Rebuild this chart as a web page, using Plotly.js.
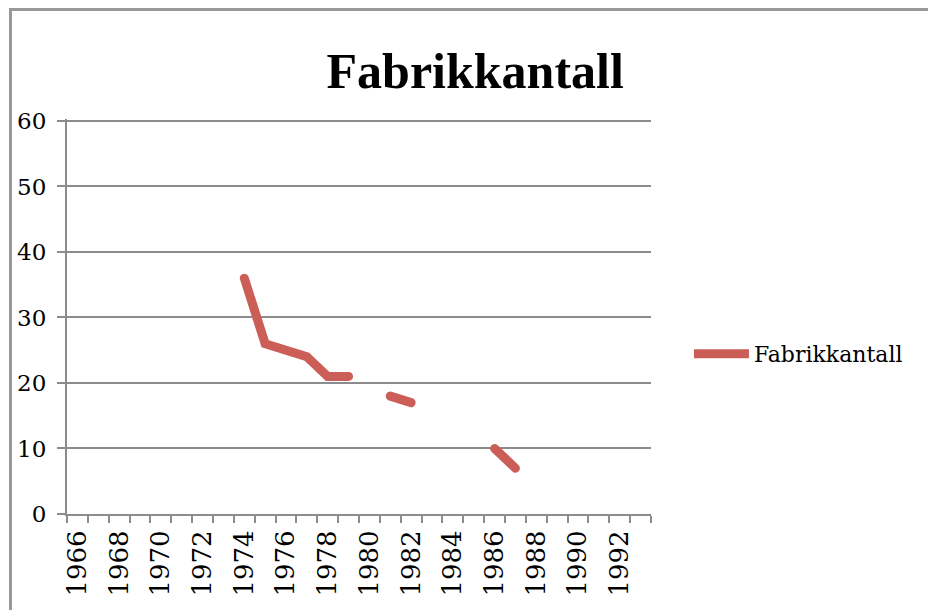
<!DOCTYPE html>
<html>
<head>
<meta charset="utf-8">
<script src="https://cdn.plot.ly/plotly-3.0.1.min.js"></script>
<style>
  html, body { margin: 0; padding: 0; background: #fff; }
  #frame { position: absolute; left: 9px; top: 8px; width: 940px; height: 620px;
           border-top: 3px solid #999; border-left: 3px solid #999; pointer-events: none; z-index: 5; }
  #chart { width: 928px; height: 610px; }
  .scatterlayer path.js-line { stroke-linecap: round; }
</style>
</head>
<body>
<div id="frame"></div>
<div id="chart"></div>
<script>
// Data
const years = [1974, 1975, 1976, 1977, 1978, 1979, 1980, 1981, 1982, 1983, 1984, 1985, 1986, 1987];
const fabrikkantall = [36, 26, 25, 24, 21, 21, null, 18, 17, null, null, null, 10, 7];
const xTickYears = [1966, 1968, 1970, 1972, 1974, 1976, 1978, 1980, 1982, 1984, 1986, 1988, 1990, 1992];
const xTickLabels = xTickYears.map(String);
const categoryBoundaries = [];
for (let b = 1965.5; b <= 1993.5; b += 1) categoryBoundaries.push(b);
const yTicks = [0, 10, 20, 30, 40, 50, 60];

const axisGray = '#8c8c8c';

const trace = {
  x: years,
  y: fabrikkantall,
  type: 'scatter',
  mode: 'lines',
  name: 'Fabrikkantall',
  connectgaps: false,
  line: { color: '#CB5F57', width: 9 }
};

const layout = {
  width: 928,
  height: 610,
  paper_bgcolor: '#ffffff',
  plot_bgcolor: '#ffffff',
  margin: { l: 67, r: 277, t: 119, b: 96 },
  title: {
    text: '<b>Fabrikkantall</b>',
    font: { family: 'Liberation Serif, serif', size: 50, color: '#000' },
    x: 0.699, xanchor: 'center', xref: 'paper',
    y: 0.885, yanchor: 'middle'
  },
  showlegend: true,
  legend: {
    x: 1.065, xanchor: 'left', y: 0.405, yanchor: 'middle',
    font: { family: 'DejaVu Serif, serif', size: 22, color: '#000' },
    itemwidth: 55, bgcolor: 'rgba(0,0,0,0)'
  },
  xaxis: {
    type: 'linear',
    range: [1965.5, 1993.5],
    tickmode: 'array',
    tickvals: xTickYears,
    ticktext: xTickLabels,
    tickangle: -90,
    ticks: '',
    showgrid: false,
    showline: true,
    linecolor: axisGray,
    linewidth: 2,
    zeroline: false,
    ticklabelstandoff: 4,
    tickfont: { family: 'DejaVu Serif, serif', size: 26, color: '#000' },
    minor: { tickmode: 'array', tickvals: categoryBoundaries, ticks: 'outside', ticklen: 7, tickwidth: 2, tickcolor: axisGray, showgrid: false },
    fixedrange: true
  },
  yaxis: {
    range: [0, 60.3],
    tickmode: 'array',
    tickvals: yTicks,
    ticks: 'outside',
    ticklen: 8,
    tickwidth: 2,
    tickcolor: axisGray,
    showgrid: true,
    gridcolor: axisGray,
    gridwidth: 2,
    showline: true,
    linecolor: axisGray,
    linewidth: 2,
    zeroline: false,
    ticklabelstandoff: 6,
    tickfont: { family: 'DejaVu Serif, serif', size: 23, color: '#000' },
    fixedrange: true
  }
};

Plotly.newPlot('chart', [trace], layout, { displayModeBar: false, staticPlot: true });
</script>
</body>
</html>
